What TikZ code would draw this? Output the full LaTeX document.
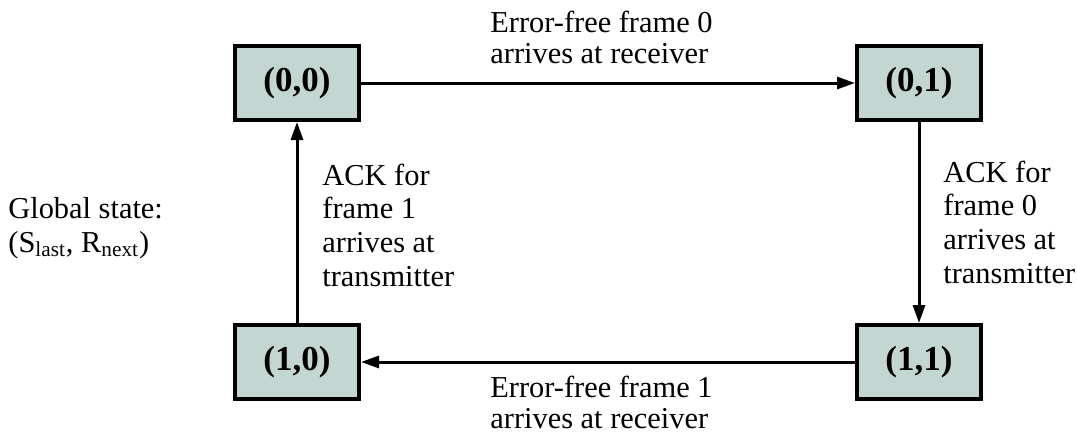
\documentclass[tikz,border=0pt]{standalone}
\usepackage{fontspec}
\setmainfont{Liberation Serif}
\usetikzlibrary{arrows.meta}
\definecolor{statefill}{RGB}{196,214,210}
\begin{document}
\begin{tikzpicture}[x=0.5pt,y=-0.5pt,
  state/.style={draw=black,line width=2pt,fill=statefill,
    minimum width=62pt,minimum height=37pt,inner sep=0pt,
    font=\fontsize{17.5}{19}\selectfont\bfseries},
  lbl/.style={align=left,inner sep=0pt,anchor=base west,
    font=\fontsize{15.2}{16.8}\selectfont},
  lblt/.style={lbl,font=\fontsize{15.2}{15.2}\selectfont},
  trans/.style={line width=1.5pt,-{Triangle[length=9pt,width=6pt]}}]
  \useasboundingbox (0,0) rectangle (1077,434);

  % the four global states
  \node[state] (s00) at (297,83) {(0,0)};
  \node[state] (s01) at (919,83) {(0,1)};
  \node[state] (s10) at (297,362) {(1,0)};
  \node[state] (s11) at (919,362) {(1,1)};

  % transitions between states
  \draw[trans] (s00) -- (s01);
  \draw[trans] (s01) -- (s11);
  \draw[trans] (s11) -- (s10);
  \draw[trans] (s10) -- (s00);

  % transition labels (anchored at the baseline of the last line)
  \node[lblt] (ltop) at (490,63) {Error-free frame 0\\arrives at receiver};
  \node[lblt] (lbot) at (490,428) {Error-free frame 1\\arrives at receiver};
  \node[lbl] (lleft) at (322,286) {ACK for\\frame 1\\arrives at\\transmitter};
  \node[lbl] (lright) at (943,283) {ACK for\\frame 0\\arrives at\\transmitter};

  % legend
  \node[lbl] (legend) at (8,252) {Global state:\\(S\textsubscript{last}, R\textsubscript{next})};
\end{tikzpicture}
\end{document}
